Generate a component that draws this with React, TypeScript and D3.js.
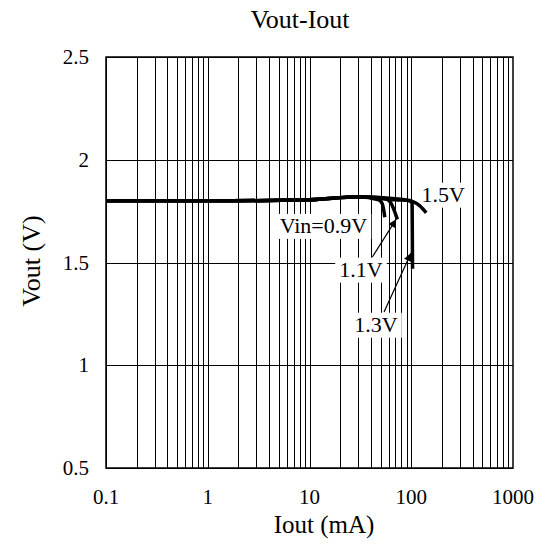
import {useEffect, useRef} from "react";
import * as d3 from "d3";

// Iout (mA) / Vout (V) for each Vin
const iout09 = [0.1, 1, 10, 30, 48, 52, 55];
const vout09 = [1.8, 1.8, 1.805, 1.82, 1.805, 1.785, 1.72];
const iout11 = [0.1, 1, 10, 30, 56, 63, 73];
const vout11 = [1.8, 1.8, 1.805, 1.82, 1.81, 1.79, 1.71];
const iout13 = [0.1, 1, 10, 30, 70, 100, 102, 103];
const vout13 = [1.8, 1.8, 1.805, 1.82, 1.805, 1.8, 1.78, 1.47];
const iout15 = [0.1, 1, 10, 30, 70, 105, 122, 132, 140];
const vout15 = [1.8, 1.8, 1.805, 1.82, 1.81, 1.795, 1.775, 1.757, 1.742];

const xTicks = [0.1, 1, 10, 100, 1000];
const xTickLabels = ["0.1", "1", "10", "100", "1000"];
const yTicks = [0.5, 1, 1.5, 2, 2.5];
const yTickLabels = ["0.5", "1", "1.5", "2", "2.5"];

// labels: text, iout, vout (baseline centre)
const labelText = ["Vin=0.9V", "1.1V", "1.3V", "1.5V"];
const labelI = [13.7, 32, 45, 206];
const labelV = [1.644, 1.431, 1.163, 1.796];

// arrows: from (tail) -> to (tip)
const arrowFromI = [41.5, 54];
const arrowFromV = [1.527, 1.259];
const arrowToI = [71, 99.5];
const arrowToV = [1.71, 1.546];

const W = 545;
const H = 545;
const left = 106;
const right = 513;
const top = 57;
const bottom = 468;

export default function App() {
  const svgRef = useRef<SVGSVGElement>(null);

  useEffect(() => {
    if (!svgRef.current) return;
    const svg = d3.select(svgRef.current);
    svg.selectAll("*").remove();

    const x = d3.scaleLog().domain([0.1, 1000]).range([left, right]);
    const y = d3.scaleLinear().domain([0.5, 2.5]).range([bottom, top]);
    const font = "'Liberation Serif', 'Times New Roman', serif";

    // minor + major vertical grid
    const vgrid: number[] = [];
    for (let d = 0.1; d < 1000; d *= 10) {
      for (let k = 1; k <= 9; k++) vgrid.push(+(d * k).toPrecision(3));
    }
    svg
      .append("g")
      .selectAll("line")
      .data(vgrid)
      .enter()
      .append("line")
      .attr("x1", (d) => Math.round(x(d)) + 0.5)
      .attr("x2", (d) => Math.round(x(d)) + 0.5)
      .attr("y1", top)
      .attr("y2", bottom)
      .style("stroke", "#000")
      .style("stroke-width", 1);

    svg
      .append("g")
      .selectAll("line")
      .data(yTicks)
      .enter()
      .append("line")
      .attr("x1", left)
      .attr("x2", right)
      .attr("y1", (d) => Math.round(y(d)) + 0.5)
      .attr("y2", (d) => Math.round(y(d)) + 0.5)
      .style("stroke", "#000")
      .style("stroke-width", 1);

    svg
      .append("rect")
      .attr("x", left)
      .attr("y", top)
      .attr("width", right - left)
      .attr("height", bottom - top)
      .style("fill", "none")
      .style("stroke", "#000")
      .style("stroke-width", 1.5);

    // tick labels
    svg
      .append("g")
      .selectAll("text")
      .data(xTicks)
      .enter()
      .append("text")
      .attr("x", (d) => x(d))
      .attr("y", 504)
      .attr("text-anchor", "middle")
      .style("font-family", font)
      .style("font-size", "21px")
      .text((d, i) => xTickLabels[i]);

    svg
      .append("g")
      .selectAll("text")
      .data(yTicks)
      .enter()
      .append("text")
      .attr("x", 89)
      .attr("y", (d) => y(d) + 7)
      .attr("text-anchor", "end")
      .style("font-family", font)
      .style("font-size", "21px")
      .text((d, i) => yTickLabels[i]);

    // titles
    svg
      .append("text")
      .attr("x", 300)
      .attr("y", 28)
      .attr("text-anchor", "middle")
      .style("font-family", font)
      .style("font-size", "26px")
      .text("Vout-Iout");
    svg
      .append("text")
      .attr("x", 324)
      .attr("y", 533)
      .attr("text-anchor", "middle")
      .style("font-family", font)
      .style("font-size", "25px")
      .text("Iout (mA)");
    svg
      .append("text")
      .attr("transform", "translate(40,261) rotate(-90)")
      .attr("text-anchor", "middle")
      .style("font-family", font)
      .style("font-size", "26px")
      .text("Vout (V)");

    // labels with white boxes
    const lab = svg.append("g");
    labelText.forEach((t, i) => {
      const g = lab.append("g");
      const txt = g
        .append("text")
        .attr("x", x(labelI[i]))
        .attr("y", y(labelV[i]))
        .attr("text-anchor", "middle")
        .style("font-family", font)
        .style("font-size", "22px")
        .text(t);
      const bb = (txt.node() as SVGTextElement).getBBox();
      g.insert("rect", "text")
        .attr("x", bb.x - 4)
        .attr("y", bb.y + 1)
        .attr("width", bb.width + 8)
        .attr("height", bb.height)
        .style("fill", "#fff");
    });

    // curves
    const line = d3
      .line<[number, number]>()
      .x((d) => x(d[0]))
      .y((d) => y(d[1]))
      .curve(d3.curveMonotoneX);
    const series: [number[], number[]][] = [
      [iout09, vout09],
      [iout11, vout11],
      [iout13, vout13],
      [iout15, vout15],
    ];
    svg
      .append("g")
      .selectAll("path")
      .data(series)
      .enter()
      .append("path")
      .attr("d", (s) => line(s[0].map((v, i) => [v, s[1][i]] as [number, number])))
      .style("fill", "none")
      .style("stroke", "#000")
      .style("stroke-width", 3.5)
      .style("stroke-linejoin", "round");

    // arrows
    svg
      .append("defs")
      .append("marker")
      .attr("id", "ah")
      .attr("viewBox", "0 0 10 10")
      .attr("refX", 10)
      .attr("refY", 5)
      .attr("markerWidth", 11)
      .attr("markerHeight", 8)
      .attr("markerUnits", "userSpaceOnUse")
      .attr("orient", "auto")
      .append("path")
      .attr("d", "M0,0 L10,5 L0,10 Z")
      .style("fill", "#000");
    svg
      .append("g")
      .selectAll("line")
      .data(arrowFromI)
      .enter()
      .append("line")
      .attr("x1", (d) => x(d))
      .attr("y1", (d, i) => y(arrowFromV[i]))
      .attr("x2", (d, i) => x(arrowToI[i]))
      .attr("y2", (d, i) => y(arrowToV[i]))
      .style("stroke", "#000")
      .style("stroke-width", 1.2)
      .attr("marker-end", "url(#ah)");
  }, []);

  return (
    <svg
      ref={svgRef}
      width={W}
      height={H}
      style={{position: "absolute", left: 0, top: 0, background: "#fff"}}
    />
  );
}
